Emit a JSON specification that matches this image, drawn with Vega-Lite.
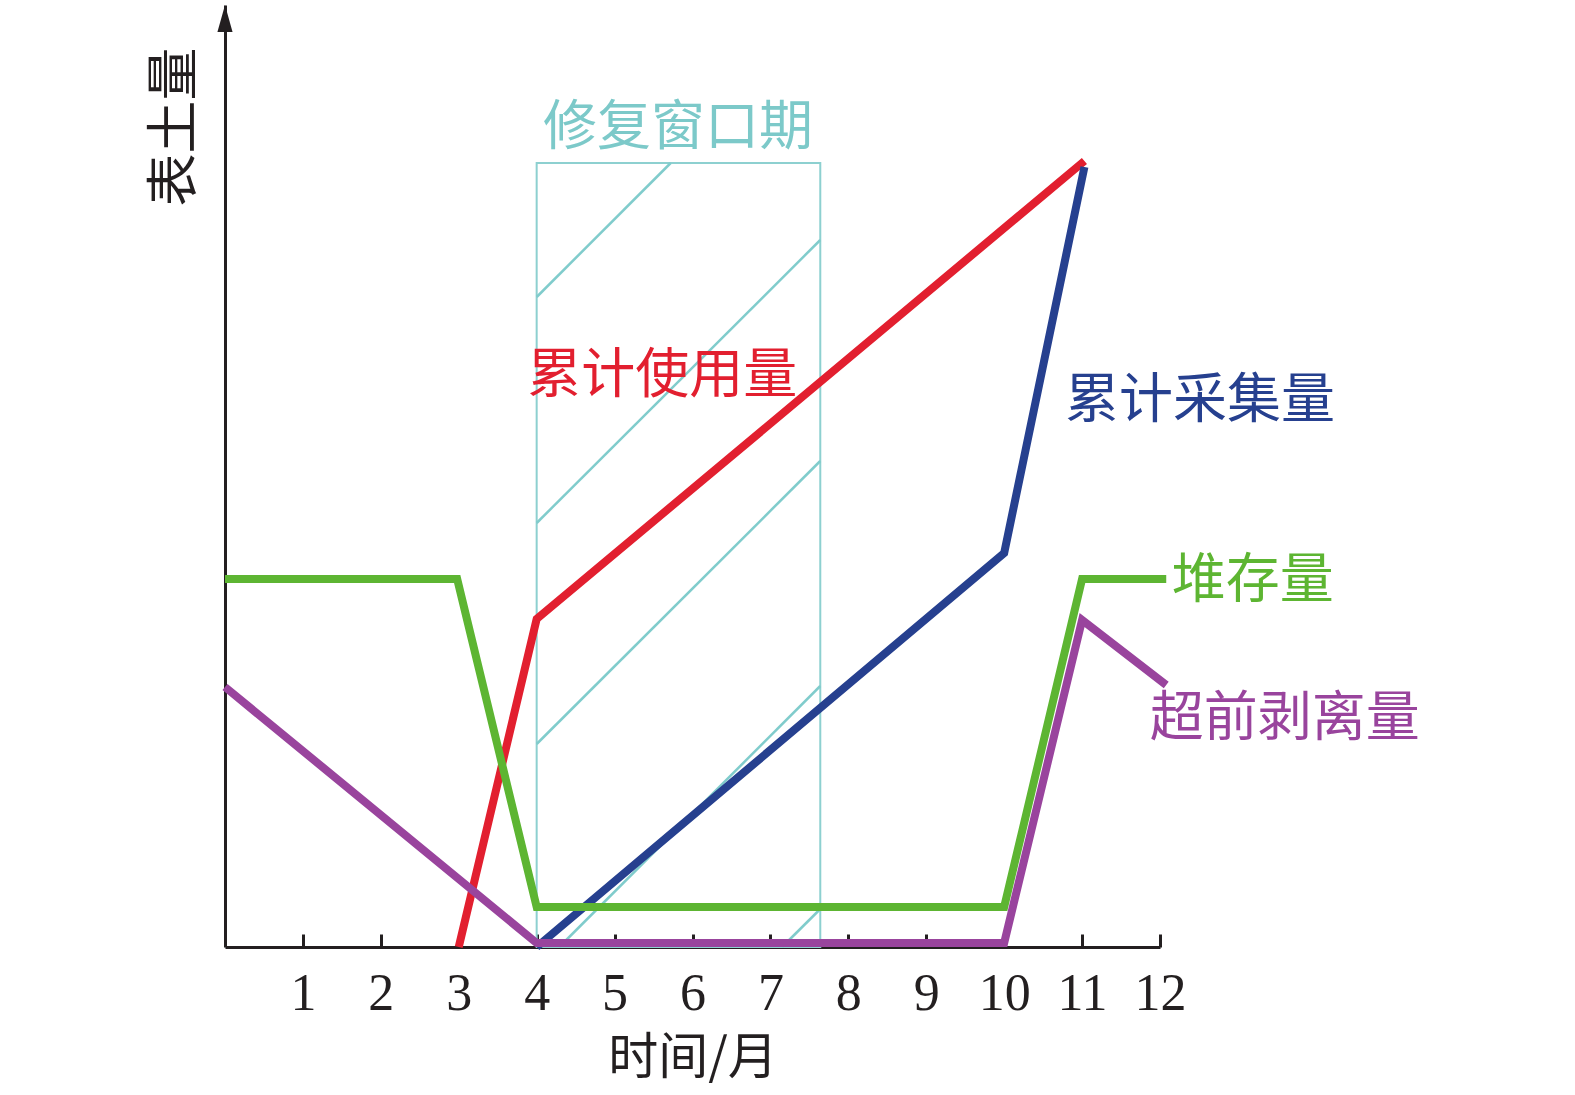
{
  "$schema": "https://vega.github.io/schema/vega-lite/v6.json",
  "width": 935,
  "height": 942,
  "autosize": {"type": "none"},
  "padding": {"left": 225, "top": 5, "right": 415, "bottom": 148},
  "background": "white",
  "config": {"view": {"stroke": null}},
  "encoding": {
    "x": {
      "field": "x", "type": "quantitative",
      "scale": {"domain": [0, 12], "nice": false, "zero": false},
      "axis": {
        "values": [1, 2, 3, 4, 5, 6, 7, 8, 9, 10, 11, 12],
        "title": "时间/月",
        "grid": false,
        "domainColor": "#231f20", "domainWidth": 3,
        "tickColor": "#231f20", "tickWidth": 3, "tickSize": -13,
        "labelFont": "Liberation Serif", "labelFontSize": 52, "labelColor": "#231f20",
        "labelPadding": 34, "labelFlush": false,
        "titleFont": "Noto Sans CJK SC", "titleFontSize": 50, "titleFontWeight": "normal",
        "titleColor": "#231f20", "titlePadding": 14
      }
    },
    "y": {
      "field": "y", "type": "quantitative",
      "scale": {"domain": [0, 942], "nice": false},
      "axis": {
        "title": "表土量",
        "grid": false, "ticks": false, "labels": false,
        "domainColor": "#231f20", "domainWidth": 3,
        "titleFont": "Noto Sans CJK SC", "titleFontSize": 53, "titleFontWeight": "normal",
        "titleColor": "#231f20",
        "titleAngle": 270, "titleAlign": "right", "titleBaseline": "middle",
        "titleX": -50, "titleY": 42
      }
    }
  },
  "layer": [
    {
      "data": {"values": [{"x": 4, "x2": 7.64, "y": 0, "y2": 784}]},
      "mark": {"type": "rect", "fill": "white", "fillOpacity": 0, "stroke": "#8dd0d0", "strokeWidth": 2},
      "encoding": {"x2": {"field": "x2"}, "y2": {"field": "y2"}}
    },
    {
      "data": {"values": [
        {"x": 4, "y": 650, "x2": 5.72, "y2": 784},
        {"x": 4, "y": 424, "x2": 7.64, "y2": 707},
        {"x": 4, "y": 203, "x2": 7.64, "y2": 486},
        {"x": 4.29, "y": 0, "x2": 7.64, "y2": 261},
        {"x": 7.15, "y": 0, "x2": 7.64, "y2": 38}
      ]},
      "mark": {"type": "rule", "color": "#80cccc", "strokeWidth": 2.5},
      "encoding": {"x2": {"field": "x2"}, "y2": {"field": "y2"}}
    },
    {
      "data": {"values": [
        {"s": "累计使用量", "x": 3, "y": 0},
        {"s": "累计使用量", "x": 4, "y": 328},
        {"s": "累计使用量", "x": 11.03, "y": 786},
        {"s": "累计采集量", "x": 4, "y": 0},
        {"s": "累计采集量", "x": 10, "y": 394},
        {"s": "累计采集量", "x": 11.03, "y": 780},
        {"s": "堆存量", "x": 0, "y": 368},
        {"s": "堆存量", "x": 2.98, "y": 368},
        {"s": "堆存量", "x": 4, "y": 40},
        {"s": "堆存量", "x": 10, "y": 40},
        {"s": "堆存量", "x": 11, "y": 368},
        {"s": "堆存量", "x": 12.08, "y": 368},
        {"s": "超前剥离量", "x": 0, "y": 260},
        {"s": "超前剥离量", "x": 4, "y": 4},
        {"s": "超前剥离量", "x": 10, "y": 4},
        {"s": "超前剥离量", "x": 11, "y": 327},
        {"s": "超前剥离量", "x": 12.08, "y": 262}
      ]},
      "mark": {"type": "line", "strokeWidth": 8, "strokeJoin": "miter"},
      "encoding": {
        "color": {
          "field": "s", "type": "nominal", "legend": null,
          "scale": {
            "domain": ["累计使用量", "累计采集量", "堆存量", "超前剥离量", "修复窗口期"],
            "range": ["#e21f2f", "#26408f", "#5db532", "#99449d", "#7cc9c9"]
          }
        }
      }
    },
    {
      "data": {"values": [
        {"s": "修复窗口期", "x": 4.08, "y": 818},
        {"s": "累计使用量", "x": 3.88, "y": 570},
        {"s": "累计采集量", "x": 10.78, "y": 545},
        {"s": "堆存量", "x": 12.15, "y": 365},
        {"s": "超前剥离量", "x": 11.87, "y": 227}
      ]},
      "mark": {"type": "text", "align": "left", "baseline": "middle", "font": "Noto Sans CJK SC", "fontSize": 54},
      "encoding": {
        "text": {"field": "s"},
        "color": {"field": "s", "type": "nominal", "legend": null}
      }
    },
    {
      "data": {"values": [{"x": 0, "y": 942}]},
      "mark": {"type": "point", "shape": "M0,0L0.28,1L-0.28,1Z", "size": 2916, "filled": true, "color": "#231f20", "opacity": 1},
      "encoding": {}
    }
  ]
}
